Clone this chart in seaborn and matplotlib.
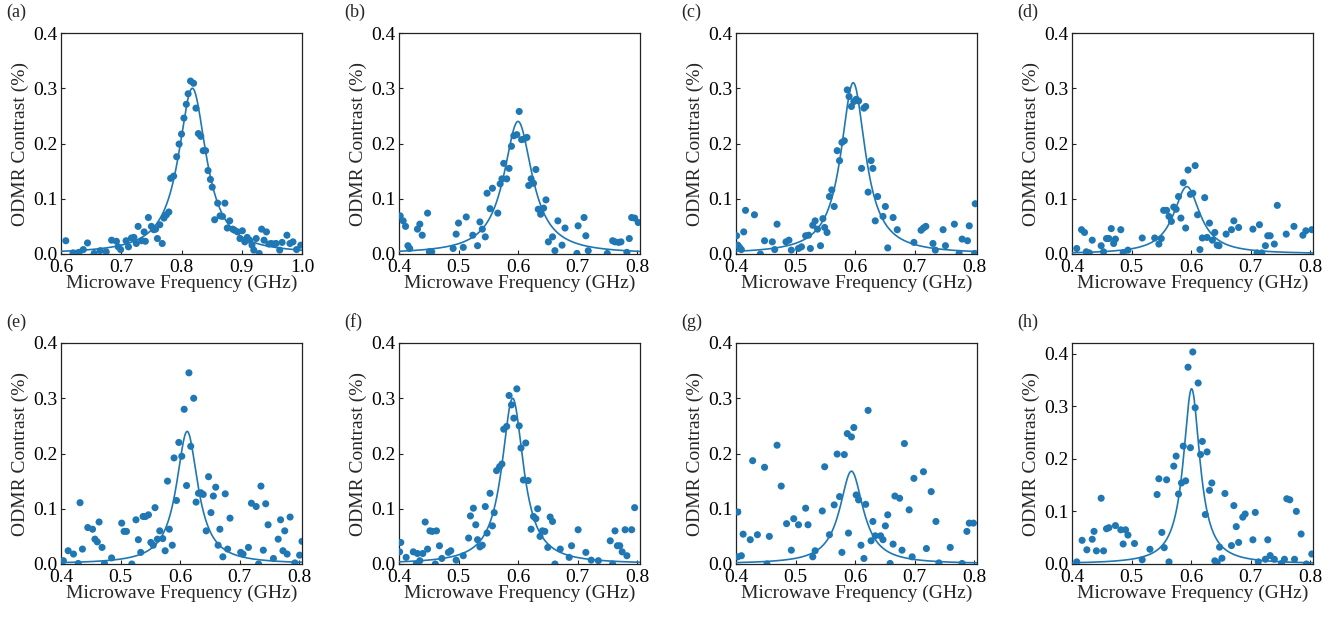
import numpy as np
import pandas as pd
import matplotlib
matplotlib.use("Agg")
import matplotlib.pyplot as plt
import seaborn as sns

sns.set_theme(style="ticks")
plt.rcParams['font.family'] = ['Liberation Serif', 'DejaVu Serif']
plt.rcParams['mathtext.fontset'] = 'stix'

# ---------------- data ----------------
panel_labels = ['(a)', '(b)', '(c)', '(d)', '(e)', '(f)', '(g)', '(h)']

a_x = [0.608, 0.620, 0.630, 0.637, 0.644, 0.655, 0.665, 0.675, 0.684, 0.692, 0.695, 0.699, 0.708, 0.712,
       0.717, 0.721, 0.725, 0.728, 0.734, 0.738, 0.740, 0.745, 0.750, 0.754, 0.757, 0.760, 0.764, 0.768,
       0.771, 0.775, 0.779, 0.782, 0.787, 0.792, 0.796, 0.800, 0.804, 0.808, 0.811, 0.815, 0.820, 0.824,
       0.828, 0.832, 0.836, 0.840, 0.844, 0.848, 0.851, 0.855, 0.860, 0.864, 0.868, 0.872, 0.876, 0.880,
       0.885, 0.888, 0.893, 0.897, 0.901, 0.905, 0.909, 0.913, 0.917, 0.920, 0.924, 0.929, 0.933, 0.937,
       0.941, 0.945, 0.949, 0.954, 0.957, 0.963, 0.967, 0.975, 0.980, 0.985, 0.991, 0.998]
a_y = [0.024, 0.002, 0.003, 0.008, 0.020, 0.001, 0.006, 0.004, 0.025, 0.023, 0.013, 0.008, 0.024, 0.013,
       0.029, 0.030, 0.019, 0.050, 0.024, 0.040, 0.023, 0.066, 0.050, 0.044, 0.045, 0.028, 0.053, 0.019,
       0.065, 0.071, 0.076, 0.137, 0.141, 0.176, 0.199, 0.217, 0.246, 0.271, 0.290, 0.313, 0.309, 0.264,
       0.218, 0.213, 0.187, 0.187, 0.151, 0.135, 0.121, 0.062, 0.092, 0.069, 0.068, 0.092, 0.047, 0.060,
       0.045, 0.043, 0.040, 0.028, 0.042, 0.022, 0.030, 0.025, 0.016, 0.007, 0.028, 0.001, 0.045, 0.025,
       0.040, 0.018, 0.019, 0.018, 0.019, 0.007, 0.021, 0.034, 0.019, 0.022, 0.008, 0.016]

b_x = [0.402, 0.407, 0.411, 0.415, 0.418, 0.431, 0.435, 0.439, 0.448, 0.451, 0.455, 0.491, 0.496, 0.500,
       0.508, 0.513, 0.524, 0.532, 0.536, 0.540, 0.545, 0.548, 0.553, 0.557, 0.566, 0.570, 0.573, 0.576,
       0.581, 0.585, 0.589, 0.593, 0.598, 0.602, 0.606, 0.610, 0.615, 0.618, 0.622, 0.626, 0.630, 0.634,
       0.638, 0.643, 0.647, 0.651, 0.658, 0.662, 0.667, 0.674, 0.679, 0.699, 0.701, 0.711, 0.714, 0.718,
       0.750, 0.759, 0.763, 0.769, 0.773, 0.783, 0.787, 0.791, 0.796, 0.802]
b_y = [0.069, 0.060, 0.050, 0.015, 0.010, 0.045, 0.054, 0.034, 0.074, 0.004, 0.004, 0.010, 0.036, 0.056,
       0.012, 0.067, 0.034, 0.015, 0.058, 0.045, 0.031, 0.110, 0.082, 0.119, 0.074, 0.127, 0.136, 0.164,
       0.136, 0.155, 0.195, 0.214, 0.216, 0.258, 0.207, 0.208, 0.211, 0.124, 0.136, 0.128, 0.153, 0.081,
       0.072, 0.083, 0.098, 0.022, 0.031, 0.006, 0.060, 0.016, 0.047, 0.001, 0.051, 0.066, 0.033, 0.006,
       0.001, 0.024, 0.022, 0.021, 0.022, 0.003, 0.028, 0.066, 0.065, 0.057]

c_x = [0.401, 0.403, 0.406, 0.409, 0.413, 0.416, 0.431, 0.441, 0.448, 0.461, 0.465, 0.469, 0.484, 0.489,
       0.493, 0.505, 0.510, 0.517, 0.522, 0.525, 0.529, 0.533, 0.537, 0.542, 0.546, 0.549, 0.553, 0.557,
       0.561, 0.565, 0.570, 0.574, 0.578, 0.582, 0.587, 0.590, 0.594, 0.598, 0.602, 0.606, 0.611, 0.615,
       0.618, 0.622, 0.627, 0.630, 0.634, 0.638, 0.647, 0.651, 0.655, 0.664, 0.671, 0.699, 0.711, 0.715,
       0.719, 0.731, 0.735, 0.748, 0.752, 0.767, 0.775, 0.780, 0.789, 0.792, 0.801, 0.802]
c_y = [0.033, 0.016, 0.012, 0.008, 0.040, 0.079, 0.071, 0.000, 0.024, 0.022, 0.008, 0.054, 0.022, 0.025,
       0.007, 0.010, 0.013, 0.033, 0.034, 0.010, 0.052, 0.060, 0.045, 0.015, 0.064, 0.048, 0.039, 0.104,
       0.116, 0.086, 0.187, 0.169, 0.202, 0.205, 0.297, 0.285, 0.267, 0.276, 0.280, 0.277, 0.155, 0.264,
       0.267, 0.112, 0.169, 0.155, 0.060, 0.104, 0.068, 0.086, 0.011, 0.066, 0.044, 0.021, 0.043, 0.047,
       0.050, 0.019, 0.007, 0.044, 0.015, 0.054, 0.001, 0.027, 0.024, 0.051, 0.001, 0.091]

d_x = [0.408, 0.416, 0.421, 0.424, 0.429, 0.434, 0.449, 0.453, 0.458, 0.462, 0.466, 0.470, 0.473, 0.482,
       0.486, 0.494, 0.518, 0.539, 0.546, 0.550, 0.554, 0.559, 0.563, 0.567, 0.571, 0.575, 0.579, 0.583,
       0.587, 0.591, 0.595, 0.599, 0.603, 0.607, 0.611, 0.615, 0.619, 0.623, 0.627, 0.631, 0.636, 0.640,
       0.644, 0.647, 0.659, 0.668, 0.672, 0.680, 0.704, 0.711, 0.715, 0.719, 0.725, 0.729, 0.733, 0.740,
       0.745, 0.760, 0.773, 0.788, 0.793, 0.803]
d_y = [0.010, 0.044, 0.039, 0.004, 0.002, 0.025, 0.015, 0.004, 0.028, 0.028, 0.046, 0.019, 0.027, 0.044,
       0.002, 0.007, 0.029, 0.029, 0.018, 0.028, 0.079, 0.079, 0.068, 0.059, 0.085, 0.081, 0.104, 0.065,
       0.129, 0.047, 0.152, 0.108, 0.110, 0.160, 0.071, 0.008, 0.029, 0.102, 0.030, 0.056, 0.025, 0.039,
       0.016, 0.015, 0.036, 0.044, 0.060, 0.048, 0.045, 0.002, 0.053, 0.002, 0.015, 0.033, 0.033, 0.018,
       0.088, 0.036, 0.050, 0.034, 0.042, 0.044]

e_x = [0.404, 0.412, 0.421, 0.429, 0.432, 0.436, 0.445, 0.453, 0.457, 0.461, 0.464, 0.469, 0.473, 0.485,
       0.502, 0.506, 0.510, 0.519, 0.526, 0.530, 0.534, 0.538, 0.542, 0.547, 0.551, 0.555, 0.558, 0.562,
       0.566, 0.571, 0.575, 0.579, 0.582, 0.587, 0.590, 0.594, 0.598, 0.603, 0.607, 0.611, 0.615, 0.618,
       0.623, 0.627, 0.631, 0.635, 0.639, 0.644, 0.648, 0.652, 0.656, 0.660, 0.664, 0.667, 0.672, 0.676,
       0.680, 0.684, 0.702, 0.706, 0.715, 0.720, 0.728, 0.732, 0.736, 0.740, 0.744, 0.748, 0.757, 0.765,
       0.769, 0.773, 0.776, 0.780, 0.785, 0.793, 0.801, 0.805]
e_y = [0.006, 0.024, 0.018, 0.001, 0.111, 0.027, 0.066, 0.063, 0.045, 0.040, 0.076, 0.030, 0.001, 0.011,
       0.074, 0.059, 0.059, 0.000, 0.080, 0.044, 0.021, 0.086, 0.086, 0.089, 0.039, 0.034, 0.102, 0.045,
       0.060, 0.046, 0.024, 0.150, 0.063, 0.034, 0.192, 0.115, 0.220, 0.195, 0.280, 0.142, 0.346, 0.213,
       0.300, 0.112, 0.128, 0.129, 0.126, 0.060, 0.158, 0.093, 0.123, 0.139, 0.034, 0.063, 0.013, 0.127,
       0.027, 0.083, 0.021, 0.018, 0.030, 0.110, 0.104, 0.000, 0.141, 0.025, 0.109, 0.071, 0.010, 0.045,
       0.080, 0.024, 0.060, 0.018, 0.085, 0.002, 0.016, 0.041]

f_x = [0.401, 0.403, 0.412, 0.424, 0.429, 0.431, 0.435, 0.440, 0.444, 0.448, 0.452, 0.456, 0.461, 0.463,
       0.468, 0.472, 0.483, 0.487, 0.496, 0.508, 0.517, 0.520, 0.525, 0.529, 0.532, 0.536, 0.540, 0.545,
       0.548, 0.553, 0.557, 0.560, 0.564, 0.569, 0.573, 0.576, 0.581, 0.585, 0.589, 0.593, 0.598, 0.602,
       0.605, 0.609, 0.613, 0.617, 0.622, 0.626, 0.630, 0.633, 0.637, 0.641, 0.645, 0.650, 0.654, 0.658,
       0.662, 0.671, 0.686, 0.690, 0.701, 0.714, 0.723, 0.735, 0.755, 0.759, 0.763, 0.767, 0.771, 0.775,
       0.780, 0.783, 0.791, 0.796]
f_y = [0.022, 0.039, 0.012, 0.022, 0.000, 0.019, 0.006, 0.019, 0.076, 0.027, 0.060, 0.059, 0.000, 0.060,
       0.033, 0.010, 0.021, 0.024, 0.007, 0.015, 0.047, 0.087, 0.101, 0.071, 0.044, 0.031, 0.034, 0.104,
       0.056, 0.128, 0.069, 0.093, 0.169, 0.176, 0.181, 0.244, 0.249, 0.305, 0.288, 0.264, 0.317, 0.250,
       0.210, 0.152, 0.219, 0.151, 0.063, 0.086, 0.082, 0.100, 0.050, 0.060, 0.059, 0.030, 0.085, 0.077,
       0.000, 0.027, 0.012, 0.033, 0.062, 0.021, 0.007, 0.006, 0.042, 0.000, 0.060, 0.033, 0.033, 0.022,
       0.062, 0.015, 0.062, 0.102]

g_x = [0.403, 0.403, 0.409, 0.412, 0.424, 0.428, 0.436, 0.448, 0.452, 0.456, 0.469, 0.476, 0.485, 0.493,
       0.497, 0.505, 0.517, 0.521, 0.529, 0.533, 0.545, 0.549, 0.557, 0.565, 0.570, 0.574, 0.578, 0.582,
       0.587, 0.589, 0.594, 0.598, 0.602, 0.606, 0.610, 0.615, 0.618, 0.622, 0.627, 0.630, 0.634, 0.643,
       0.647, 0.651, 0.655, 0.659, 0.664, 0.667, 0.675, 0.679, 0.683, 0.691, 0.696, 0.699, 0.715, 0.720,
       0.728, 0.736, 0.741, 0.760, 0.780, 0.788, 0.792, 0.799]
g_y = [0.094, 0.013, 0.015, 0.054, 0.044, 0.187, 0.053, 0.175, 0.000, 0.050, 0.215, 0.141, 0.073, 0.025,
       0.082, 0.071, 0.101, 0.071, 0.013, 0.024, 0.096, 0.176, 0.053, 0.107, 0.199, 0.122, 0.021, 0.198,
       0.236, 0.056, 0.230, 0.247, 0.125, 0.116, 0.034, 0.010, 0.108, 0.278, 0.042, 0.077, 0.051, 0.051,
       0.044, 0.069, 0.089, 0.001, 0.036, 0.123, 0.119, 0.025, 0.218, 0.098, 0.013, 0.155, 0.167, 0.028,
       0.131, 0.077, 0.002, 0.030, 0.001, 0.059, 0.074, 0.074]

h_x = [0.408, 0.417, 0.425, 0.434, 0.437, 0.441, 0.449, 0.453, 0.458, 0.462, 0.473, 0.482, 0.486, 0.490,
       0.494, 0.505, 0.518, 0.531, 0.543, 0.546, 0.551, 0.555, 0.559, 0.563, 0.571, 0.575, 0.579, 0.584,
       0.587, 0.591, 0.595, 0.599, 0.603, 0.607, 0.612, 0.616, 0.619, 0.624, 0.627, 0.631, 0.635, 0.640,
       0.644, 0.648, 0.652, 0.657, 0.668, 0.672, 0.676, 0.680, 0.687, 0.691, 0.704, 0.708, 0.713, 0.725,
       0.729, 0.733, 0.740, 0.752, 0.757, 0.761, 0.766, 0.774, 0.777, 0.785, 0.794, 0.803]
h_y = [0.004, 0.045, 0.027, 0.047, 0.062, 0.025, 0.125, 0.025, 0.067, 0.069, 0.073, 0.065, 0.038, 0.065,
       0.055, 0.039, 0.008, 0.028, 0.132, 0.162, 0.060, 0.031, 0.160, 0.004, 0.186, 0.205, 0.133, 0.154,
       0.224, 0.158, 0.374, 0.221, 0.403, 0.297, 0.344, 0.208, 0.233, 0.094, 0.213, 0.140, 0.154, 0.006,
       0.003, 0.032, 0.011, 0.134, 0.035, 0.111, 0.071, 0.041, 0.089, 0.095, 0.046, 0.098, 0.004, 0.009,
       0.046, 0.016, 0.009, 0.001, 0.009, 0.124, 0.122, 0.009, 0.100, 0.057, 0.000, 0.019]

# Lorentzian fit parameters per panel: centre (GHz), half width (GHz), amplitude (%)
fit_center = [0.818, 0.600, 0.597, 0.593, 0.612, 0.591, 0.594, 0.601]
fit_hwhm = [0.028, 0.029, 0.025, 0.027, 0.022, 0.022, 0.024, 0.017]
fit_amp = [0.300, 0.240, 0.310, 0.122, 0.240, 0.300, 0.168, 0.333]

x_limits = [(0.6, 1.0)] + [(0.4, 0.805)] * 7
x_ticks = [[0.6, 0.7, 0.8, 0.9, 1.0]] + [[0.4, 0.5, 0.6, 0.7, 0.8]] * 7
y_limits = [(0, 0.4)] * 7 + [(0, 0.42)]
y_ticks = [0.0, 0.1, 0.2, 0.3, 0.4]

xs = [a_x, b_x, c_x, d_x, e_x, f_x, g_x, h_x]
ys = [a_y, b_y, c_y, d_y, e_y, f_y, g_y, h_y]

# ---------------- figure ----------------
W, H = 1343, 618
fig = plt.figure(figsize=(W / 100, H / 100), dpi=100)
col_left = [61, 399, 736, 1072]
row_top = [33, 343]
aw, ah = 241, 221
color = '#1f77b4'
fs = 14

for i in range(8):
    r, c = divmod(i, 4)
    ax = fig.add_axes([col_left[c] / W, 1 - (row_top[r] + ah) / H, aw / W, ah / H])
    df = pd.DataFrame({'f': xs[i], 'v': ys[i]})
    sns.scatterplot(data=df, x='f', y='v', ax=ax, color=color, s=26, edgecolor='none', linewidth=0, zorder=3)
    lo, hi = x_limits[i]
    fx = np.linspace(lo, hi, 600)
    g = fit_hwhm[i]
    fy = fit_amp[i] * g ** 2 / ((fx - fit_center[i]) ** 2 + g ** 2)
    sns.lineplot(x=fx, y=fy, ax=ax, color=color, linewidth=1.2, zorder=4)
    ax.set_xlim(lo, hi)
    ax.set_ylim(*y_limits[i])
    ax.set_xticks(x_ticks[i])
    ax.set_yticks(y_ticks)
    ax.set_xticklabels([f'{t:.1f}' for t in x_ticks[i]])
    ax.set_yticklabels([f'{t:.1f}' for t in y_ticks])
    ax.tick_params(direction='in', length=3, width=0.8, labelsize=fs,
                   top=False, right=False, colors='#222222', labelcolor='black')
    ax.tick_params(axis='x', pad=3.5)
    ax.tick_params(axis='y', pad=2.5)
    for sp in ax.spines.values():
        sp.set_linewidth(0.9)
        sp.set_color('#222222')
    ax.set_xlabel('Microwave Frequency (GHz)', fontsize=fs, labelpad=-1)
    ax.set_ylabel('ODMR Contrast (%)', fontsize=fs, labelpad=3)
    fig.text((col_left[c] - 55) / W, 1 - (row_top[r] - 21) / H, panel_labels[i],
             fontsize=13, ha='left', va='center')

fig.savefig('out.png', dpi=100)
